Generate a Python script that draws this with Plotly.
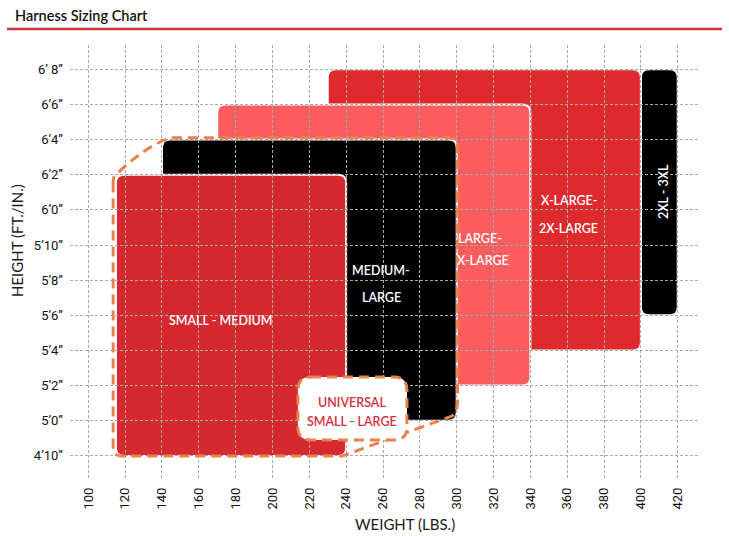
import plotly.graph_objects as go

# ---------------- data ----------------
size_names = ["2XL - 3XL", "X-LARGE-|2X-LARGE", "LARGE-|X-LARGE", "MEDIUM-|LARGE", "SMALL - MEDIUM"]
weight_min_lbs = [400, 230, 170, 140, 115]
weight_max_lbs = [420, 400, 340, 300, 240]
height_min_in = [66, 64, 62, 60, 58]
height_max_in = [80, 80, 78, 76, 74]
box_colors = ["#000000", "#de2a2d", "#fe5d60", "#000000", "#d6282e"]

weight_ticks = list(range(100, 421, 20))
height_ticks_in = list(range(58, 81, 2))
height_tick_labels = ["4’10”", "5’0”", "5’2”", "5’4”", "5’6”", "5’8”",
                      "5’10”", "6’0”", "6’2”", "6’4”", "6’6”", "6’ 8”"]

universal_label = ["UNIVERSAL", "SMALL - LARGE"]

# ---------------- layout geometry ----------------
W, H = 729, 536
ML_, MR_, MT_, MB_ = 70, 29, 45, 56
PW, PH = W - ML_ - MR_, H - MT_ - MB_
xr = [90.07, 432.1]
yr = [56.63, 81.38]
kx = PW / (xr[1] - xr[0])
ky = PH / (yr[1] - yr[0])


def rrect(x0, x1, y0, y1, r):
    rx, ry = r / kx, r / ky
    return (f"M{x0+rx},{y1} L{x1-rx},{y1} Q{x1},{y1} {x1},{y1-ry} "
            f"L{x1},{y0+ry} Q{x1},{y0} {x1-rx},{y0} L{x0+rx},{y0} "
            f"Q{x0},{y0} {x0},{y0+ry} L{x0},{y1-ry} Q{x0},{y1} {x0+rx},{y1} Z")


fig = go.Figure()
fig.add_trace(go.Scatter(x=[xr[0]], y=[yr[0]], mode="markers",
                         marker=dict(opacity=0), showlegend=False, hoverinfo="skip"))

shapes = []
for i in range(len(size_names)):
    shapes.append(dict(type="path", xref="x", yref="y", layer="below",
                       path=rrect(weight_min_lbs[i], weight_max_lbs[i],
                                  height_min_in[i], height_max_in[i], 8),
                       fillcolor=box_colors[i], line=dict(color="white", width=2)))

# universal dashed outline around SMALL-MEDIUM and MEDIUM-LARGE
sx0, sx1, sy0, sy1 = weight_min_lbs[4], weight_max_lbs[4], height_min_in[4], height_max_in[4]
mx0, mx1, my0, my1 = weight_min_lbs[3], weight_max_lbs[3], height_min_in[3], height_max_in[3]
dx = 1.5
rx, ry = 8 / kx, 8 / ky
outline = (f"M{sx0-dx},{sy1-0.45} L{sx0-dx},{sy0+ry} Q{sx0-dx},{sy0} {sx0-dx+rx},{sy0} "
           f"L{sx1-2},{sy0} L{mx1-3},{my0+0.25} Q{mx1+0.5},{my0+0.4} {mx1+0.5},{my0+1.2} "
           f"L{mx1+0.5},{my1-ry} Q{mx1+0.5},{my1+0.1} {mx1+0.5-rx},{my1+0.1} "
           f"L{mx0+5},{my1+0.1} Q{mx0-8},{my1-0.3} {sx0+1},{sy1+0.1} "
           f"Q{sx0-dx},{sy1+0.05} {sx0-dx},{sy1-0.45}")
shapes.append(dict(type="path", xref="x", yref="y", layer="above", path=outline,
                   line=dict(color="#e8824c", width=3, dash="10px,6px")))

# speech bubble for universal label
shapes.append(dict(type="path", xref="x", yref="y", layer="above",
                   path=rrect(213.8, 273.0, 58.91, 62.49, 13),
                   fillcolor="white", line=dict(color="#e8824c", width=3, dash="10px,6px")))

# title rule
shapes.append(dict(type="line", xref="paper", yref="paper",
                   x0=(7 - ML_) / PW, x1=(722 - ML_) / PW,
                   y0=(H - MB_ - 29) / PH, y1=(H - MB_ - 29) / PH,
                   line=dict(color="#c8363b", width=2.5)))


def px2x(px):
    return xr[0] + (px - ML_) / kx


def py2y(py):
    return yr[0] + (H - MB_ - py) / ky


lbl_font = dict(family="Lato", size=12.5, color="white", weight=600)
ann = []


def add_text(txt, px, py, font=lbl_font, angle=0):
    ann.append(dict(x=px2x(px), y=py2y(py), xref="x", yref="y", text=txt,
                    showarrow=False, font=font, textangle=angle,
                    xanchor="center", yanchor="middle"))


add_text(size_names[4], 221, 320)
l1, l2 = size_names[3].split("|")
add_text(l1, 381, 270)
add_text(l2, 381, 297)
l1, l2 = size_names[2].split("|")
add_text(l1, 480, 238)
add_text(l2, 483, 260)
l1, l2 = size_names[1].split("|")
add_text(l1, 569, 200)
add_text(l2, 568, 228)
add_text(size_names[0], 663, 192, angle=-90)
red_font = dict(family="Lato", size=12.5, color="#d5303b", weight=600)
add_text(universal_label[0], 352, 402, font=red_font)
add_text(universal_label[1], 352, 421, font=red_font)

# title and axis titles
ann.append(dict(xref="paper", yref="paper", x=(13 - ML_) / PW, y=(H - MB_ - 15) / PH,
                text="Harness Sizing Chart", showarrow=False, xanchor="left", yanchor="middle",
                font=dict(family="Lato", size=14.5, color="#111111", weight=600)))
ann.append(dict(xref="paper", yref="paper", x=(17 - ML_) / PW, y=(H - MB_ - 240) / PH,
                text="HEIGHT (FT./IN.)", showarrow=False, textangle=-90,
                xanchor="center", yanchor="middle",
                font=dict(family="Lato", size=15, color="#1a1a1a")))
ann.append(dict(xref="paper", yref="paper", x=(405 - ML_) / PW, y=(H - MB_ - 524) / PH,
                text="WEIGHT (LBS.)", showarrow=False,
                xanchor="center", yanchor="middle",
                font=dict(family="Lato", size=15, color="#1a1a1a")))

tick_font = dict(family="Roboto", size=13, color="#111111")
fig.update_layout(
    width=W, height=H, margin=dict(l=ML_, r=MR_, t=MT_, b=MB_),
    paper_bgcolor="white", plot_bgcolor="white",
    shapes=shapes, annotations=ann, showlegend=False,
    xaxis=dict(range=xr, tickmode="array", tickvals=weight_ticks, ticktext=[str(v) for v in weight_ticks],
               tickangle=-90, tickfont=tick_font, showgrid=True, gridcolor="#a9a9a9",
               griddash="3px,2px", gridwidth=1, zeroline=False, showline=False, ticks="",
               ticklabelstandoff=4),
    yaxis=dict(range=yr, tickmode="array", tickvals=height_ticks_in, ticktext=height_tick_labels,
               tickfont=tick_font, showgrid=True, gridcolor="#a9a9a9",
               griddash="3px,2px", gridwidth=1, zeroline=False, showline=False, ticks="",
               ticklabelstandoff=6),
)

fig.write_html("out.html", config={"displayModeBar": False},
               post_script="document.body.style.margin='0';document.body.style.overflow='hidden';")
